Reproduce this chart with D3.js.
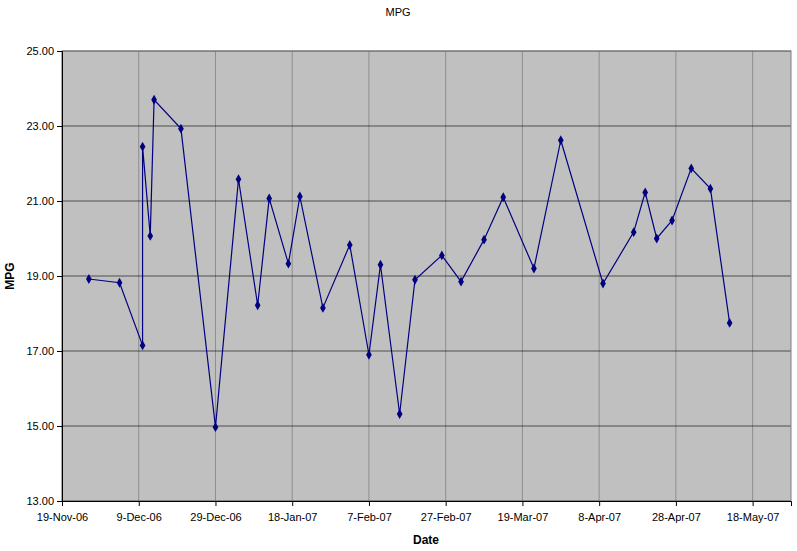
<!DOCTYPE html>
<html><head><meta charset="utf-8">
<script src="https://cdn.jsdelivr.net/npm/d3@7"></script>
<style>body{margin:0;background:#fff}svg{font-family:"Liberation Sans",Arial,sans-serif}</style>
</head><body><svg id="c" width="797" height="551"></svg>
<script>
const dates = ["2006-11-26","2006-12-04","2006-12-10","2006-12-10","2006-12-12","2006-12-13","2006-12-20","2006-12-29","2007-01-04","2007-01-09","2007-01-12","2007-01-17","2007-01-20","2007-01-26","2007-02-02","2007-02-07","2007-02-10","2007-02-15","2007-02-19","2007-02-26","2007-03-03","2007-03-09","2007-03-14","2007-03-22","2007-03-29","2007-04-09","2007-04-17","2007-04-20","2007-04-23","2007-04-27","2007-05-02","2007-05-07","2007-05-12"];
const mpg = [18.92,18.82,17.15,22.45,20.07,23.7,22.93,14.97,21.58,18.22,21.07,19.33,21.12,18.15,19.83,16.9,19.3,15.32,18.9,19.55,18.85,19.97,21.1,19.2,22.62,18.8,20.17,21.23,20.0,20.48,21.87,21.33,17.75];
const yTicks = [13,15,17,19,21,23,25];
const xTickDates = ["2006-11-19","2006-12-09","2006-12-29","2007-01-18","2007-02-07","2007-02-27","2007-03-19","2007-04-08","2007-04-28","2007-05-18"];

const p = s => new Date(s + "T00:00:00");
const svg = d3.select("#c");
const L=62,R=791,T=51,B=501;
const x = d3.scaleTime().domain([p("2006-11-19"), p("2007-05-28")]).range([L,R]);
const y = d3.scaleLinear().domain([13,25]).range([B,T]);
svg.append("rect").attr("x",L).attr("y",T).attr("width",R-L).attr("height",B-T).attr("fill","#c0c0c0");
const fmt = d => { const m=["Jan","Feb","Mar","Apr","May","Jun","Jul","Aug","Sep","Oct","Nov","Dec"]; return d.getDate()+"-"+m[d.getMonth()]+"-"+String(d.getFullYear()).slice(2); };
// grid
xTickDates.forEach(s=>svg.append("line").attr("x1",x(p(s))).attr("x2",x(p(s))).attr("y1",T).attr("y2",B).attr("stroke","#808080").attr("stroke-width",0.8));
yTicks.forEach(v=>svg.append("line").attr("x1",L).attr("x2",R).attr("y1",y(v)).attr("y2",y(v)).attr("stroke","#000").attr("stroke-width",0.6));
svg.append("rect").attr("x",L).attr("y",T).attr("width",R-L).attr("height",B-T).attr("fill","none").attr("stroke","#808080");
// axes
const xa = svg.append("g").attr("transform",`translate(0,${B})`).call(d3.axisBottom(x).tickValues(xTickDates.map(p)).tickFormat(fmt).tickSize(5));
xa.select(".domain").attr("stroke","#000");
xa.selectAll("text").attr("font-size",11).attr("font-family","Liberation Sans, Arial").attr("dy","1.1em");
const ya = svg.append("g").attr("transform",`translate(${L},0)`).call(d3.axisLeft(y).tickValues(yTicks).tickFormat(d3.format(".2f")).tickSize(5));
ya.select(".domain").attr("stroke","#000");
ya.selectAll("text").attr("font-size",11).attr("font-family","Liberation Sans, Arial");
// line
const data = dates.map((d,i)=>({d:p(d),v:mpg[i]}));
svg.append("path").datum(data).attr("fill","none").attr("stroke","#000080").attr("stroke-width",1.2)
  .attr("d",d3.line().x(d=>x(d.d)).y(d=>y(d.v)));
svg.selectAll(".m").data(data).enter().append("path").attr("fill","#000080")
  .attr("transform",d=>`translate(${x(d.d)},${y(d.v)})`).attr("d",d3.symbol(d3.symbolDiamond,28)());
// titles
svg.append("text").attr("x",398).attr("y",16).attr("text-anchor","middle").attr("font-size",11).text("MPG");
svg.append("text").attr("x",426).attr("y",544).attr("text-anchor","middle").attr("font-size",12).attr("font-weight","bold").text("Date");
svg.append("text").attr("transform","translate(14,276) rotate(-90)").attr("text-anchor","middle").attr("font-size",12).attr("font-weight","bold").text("MPG");
</script></body></html>
